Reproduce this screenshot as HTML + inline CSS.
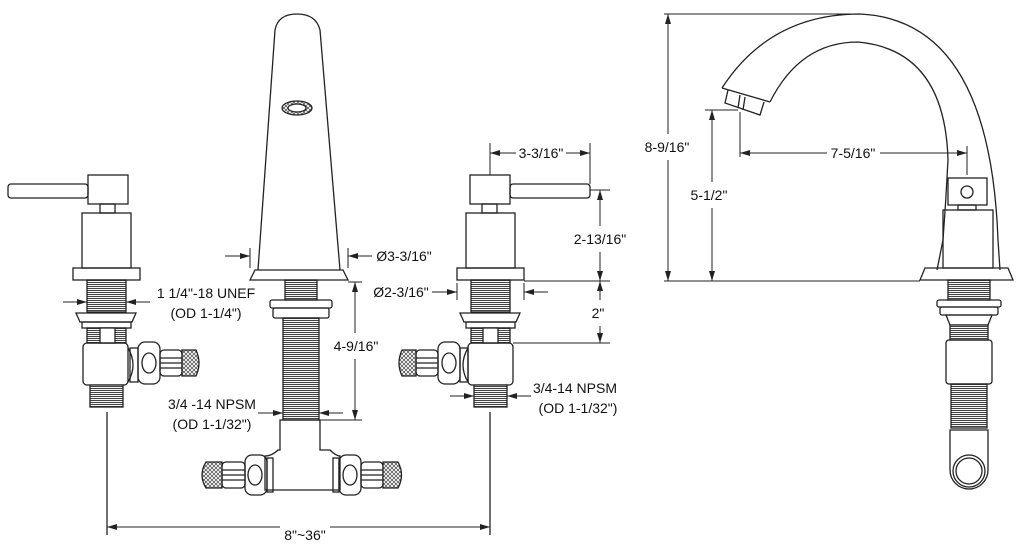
<!DOCTYPE html>
<html><head><style>html,body{margin:0;padding:0;background:#fff}svg{display:block}</style></head><body>
<svg width="1024" height="553" viewBox="0 0 1024 553" xmlns="http://www.w3.org/2000/svg" font-family="Liberation Sans, sans-serif" font-size="14" fill="none" stroke="#222" stroke-width="1.3">
<defs>
<pattern id="th" width="4" height="2" patternUnits="userSpaceOnUse"><rect width="4" height="2" fill="#fff" stroke="none"/><line x1="0" y1="0.5" x2="4" y2="0.5" stroke="#444" stroke-width="1.1"/></pattern>
<pattern id="hx" width="4" height="4" patternUnits="userSpaceOnUse"><rect width="4" height="4" fill="#fff" stroke="none"/><path d="M0 4L4 0M0 0L4 4" stroke="#444" stroke-width="0.7"/></pattern>
<marker id="a" markerWidth="10" markerHeight="6" refX="10" refY="3" orient="auto-start-reverse" markerUnits="userSpaceOnUse"><path d="M0 0L10 3L0 6z" fill="#222" stroke="none"/></marker>
</defs>

<!-- LEFT VALVE -->
<rect x="8" y="184" width="80" height="14" rx="3"/>
<rect x="88" y="175" width="40" height="29"/>
<rect x="100" y="204" width="15" height="9"/>
<rect x="82" y="213" width="49" height="55"/>
<rect x="73" y="268" width="67" height="12"/>
<rect x="87" y="280" width="39" height="32" fill="url(#th)"/>
<path d="M76 313H136L132 322H80Z"/>
<rect x="82" y="322" width="49" height="6"/>
<rect x="87" y="328" width="39" height="15" fill="url(#th)"/>
<rect x="100" y="328" width="15" height="15" fill="#fff"/>
<rect x="83" y="343" width="45" height="42" rx="4"/>
<path d="M128 348Q138 365 128 382"/>
<rect x="130" y="348" width="8" height="34"/>
<rect x="138" y="342" width="22" height="42" rx="7"/>
<ellipse cx="149" cy="363" rx="7" ry="10"/>
<rect x="160" y="350" width="22" height="26" rx="4"/>
<path d="M160 358H182M160 363H182M160 368H182"/>
<path d="M182 350H196Q202 363 196 376H182Z" fill="url(#hx)"/>
<rect x="90" y="385" width="33" height="22" fill="url(#th)"/>
<line x1="107" y1="412" x2="107" y2="535"/>

<!-- CENTER SPOUT -->
<path d="M258 270L275 30Q278 14 297 14Q316 14 320 30L340 270"/>
<ellipse cx="297" cy="108" rx="15" ry="7" fill="url(#hx)"/>
<ellipse cx="297" cy="108" rx="9" ry="4" fill="#fff"/>
<path d="M250 280L255 270H343L348 280Z"/>
<rect x="285" y="280" width="32" height="20" fill="url(#th)"/>
<rect x="270" y="300" width="62" height="8" rx="2"/>
<rect x="273" y="308" width="56" height="10" rx="2"/>
<rect x="283" y="318" width="36" height="102" fill="url(#th)"/>
<path d="M280 420H320V450H330Q336 456 340 456V490H265V456Q272 456 278 450H280Z"/>
<rect x="245" y="455" width="22" height="40" rx="7"/>
<ellipse cx="255" cy="475" rx="7" ry="10"/>
<rect x="267" y="458" width="6" height="34"/>
<rect x="222" y="462" width="23" height="26" rx="4"/>
<path d="M222 470H245M222 475H245M222 480H245"/>
<path d="M222 462H206Q198 475 206 488H222Z" fill="url(#hx)"/>
<rect x="333" y="458" width="6" height="34"/>
<rect x="339" y="455" width="22" height="40" rx="7"/>
<ellipse cx="350" cy="475" rx="7" ry="10"/>
<rect x="361" y="462" width="22" height="26" rx="4"/>
<path d="M361 470H383M361 475H383M361 480H383"/>
<path d="M383 462H398Q405 475 398 488H383Z" fill="url(#hx)"/>

<!-- RIGHT VALVE -->
<rect x="470" y="175" width="40" height="29"/>
<rect x="510" y="184" width="80" height="14" rx="3"/>
<rect x="482" y="204" width="15" height="9"/>
<rect x="466" y="213" width="49" height="55"/>
<rect x="457" y="268" width="67" height="12"/>
<rect x="471" y="280" width="39" height="32" fill="url(#th)"/>
<path d="M460 313H520L516 322H464Z"/>
<rect x="466" y="322" width="49" height="6"/>
<rect x="471" y="328" width="39" height="15" fill="url(#th)"/>
<rect x="483" y="328" width="15" height="15" fill="#fff"/>
<rect x="468" y="343" width="45" height="42" rx="4"/>
<path d="M468 348Q458 365 468 382"/>
<rect x="460" y="348" width="8" height="34"/>
<rect x="438" y="342" width="22" height="42" rx="7"/>
<ellipse cx="449" cy="363" rx="7" ry="10"/>
<rect x="416" y="350" width="22" height="26" rx="4"/>
<path d="M416 358H438M416 363H438M416 368H438"/>
<path d="M416 350H402Q396 363 402 376H416Z" fill="url(#hx)"/>
<rect x="474" y="385" width="33" height="22" fill="url(#th)"/>
<line x1="490" y1="412" x2="490" y2="535"/>

<!-- SIDE VIEW -->
<path d="M722 88Q770 14 860 14Q990 20 998 240L1000 270"/>
<path d="M770 102Q800 42 858 42Q945 50 948 160Q946 200 943 240L937 270"/>
<path d="M722 88L770 102"/>
<path d="M728 90L725 103L760 115L764 102"/>
<path d="M740 95L738 108M745 97L743 110"/>
<path d="M920 280L925 268H1008L1013 280Z"/>
<rect x="943" y="210" width="50" height="58"/>
<rect x="948" y="178" width="39" height="27"/>
<circle cx="967" cy="192" r="6"/>
<rect x="958" y="205" width="18" height="5"/>
<rect x="948" y="280" width="42" height="20" fill="url(#th)"/>
<rect x="937" y="300" width="64" height="7" rx="2"/>
<rect x="940" y="307" width="58" height="8" rx="2"/>
<path d="M946 315H992L988 325H950Z"/>
<rect x="950" y="325" width="38" height="15" fill="url(#th)"/>
<rect x="946" y="340" width="46" height="44" rx="3"/>
<rect x="951" y="384" width="36" height="44" fill="url(#th)"/>
<path d="M950 430V470A19 19 0 0 0 988 470V430Z"/>
<circle cx="969" cy="471" r="16"/><circle cx="969" cy="471" r="13"/>

<!-- DIMENSIONS -->
<g stroke-width="1">
<line x1="107" y1="527" x2="280" y2="527" marker-start="url(#a)"/>
<line x1="330" y1="527" x2="490" y2="527" marker-end="url(#a)"/>
<line x1="490" y1="143" x2="490" y2="175"/><line x1="590" y1="143" x2="590" y2="184"/>
<line x1="490" y1="153" x2="516" y2="153" marker-start="url(#a)"/>
<line x1="566" y1="153" x2="590" y2="153" marker-end="url(#a)"/>
<line x1="590" y1="190" x2="610" y2="190"/><line x1="524" y1="281" x2="610" y2="281"/><line x1="513" y1="343" x2="610" y2="343"/>
<line x1="600" y1="190" x2="600" y2="226" marker-start="url(#a)"/><line x1="600" y1="252" x2="600" y2="281" marker-end="url(#a)"/>
<line x1="600" y1="281" x2="600" y2="300" marker-start="url(#a)"/><line x1="600" y1="326" x2="600" y2="343" marker-end="url(#a)"/>
<line x1="348" y1="282" x2="362" y2="282"/><line x1="320" y1="420" x2="362" y2="420"/>
<line x1="355" y1="282" x2="355" y2="333" marker-start="url(#a)"/><line x1="355" y1="359" x2="355" y2="420" marker-end="url(#a)"/>
<line x1="250" y1="248" x2="250" y2="268"/><line x1="348" y1="248" x2="348" y2="268"/>
<line x1="225" y1="256" x2="250" y2="256" marker-end="url(#a)"/><line x1="372" y1="256" x2="348" y2="256" marker-end="url(#a)"/>
<line x1="457" y1="283" x2="457" y2="300"/><line x1="524" y1="283" x2="524" y2="300"/>
<line x1="432" y1="292" x2="457" y2="292" marker-end="url(#a)"/><line x1="548" y1="292" x2="524" y2="292" marker-end="url(#a)"/>
<line x1="63" y1="302" x2="87" y2="302" marker-end="url(#a)"/><line x1="150" y1="302" x2="126" y2="302" marker-end="url(#a)"/>
<line x1="258" y1="413" x2="283" y2="413" marker-end="url(#a)"/><line x1="343" y1="413" x2="319" y2="413" marker-end="url(#a)"/>
<line x1="450" y1="396" x2="474" y2="396" marker-end="url(#a)"/><line x1="531" y1="396" x2="507" y2="396" marker-end="url(#a)"/>
<line x1="664" y1="14" x2="860" y2="14"/><line x1="664" y1="281" x2="920" y2="281"/>
<line x1="668" y1="14" x2="668" y2="134" marker-start="url(#a)"/><line x1="668" y1="160" x2="668" y2="281" marker-end="url(#a)"/>
<line x1="705" y1="110" x2="738" y2="110"/>
<line x1="712" y1="110" x2="712" y2="182" marker-start="url(#a)"/><line x1="712" y1="208" x2="712" y2="281" marker-end="url(#a)"/>
<line x1="740" y1="112" x2="740" y2="157"/><line x1="967" y1="146" x2="967" y2="175"/>
<line x1="740" y1="153" x2="827" y2="153" marker-start="url(#a)"/><line x1="880" y1="153" x2="967" y2="153" marker-end="url(#a)"/>
</g>

<g fill="#111" stroke="none">
<text x="305" y="540" text-anchor="middle">8"~36"</text>
<text x="541" y="158" text-anchor="middle">3-3/16"</text>
<text x="600" y="244" text-anchor="middle">2-13/16"</text>
<text x="598" y="318" text-anchor="middle">2"</text>
<text x="356" y="351" text-anchor="middle">4-9/16"</text>
<text x="404" y="261" text-anchor="middle">Ø3-3/16"</text>
<text x="401" y="297" text-anchor="middle">Ø2-3/16"</text>
<text x="206" y="298" text-anchor="middle">1 1/4"-18 UNEF</text>
<text x="206" y="318" text-anchor="middle">(OD 1-1/4")</text>
<text x="212" y="409" text-anchor="middle">3/4 -14 NPSM</text>
<text x="212" y="429" text-anchor="middle">(OD 1-1/32")</text>
<text x="575" y="393" text-anchor="middle">3/4-14 NPSM</text>
<text x="578" y="413" text-anchor="middle">(OD 1-1/32")</text>
<text x="667" y="152" text-anchor="middle">8-9/16"</text>
<text x="709" y="200" text-anchor="middle">5-1/2"</text>
<text x="853" y="158" text-anchor="middle">7-5/16"</text>
</g>
</svg>
</body></html>
